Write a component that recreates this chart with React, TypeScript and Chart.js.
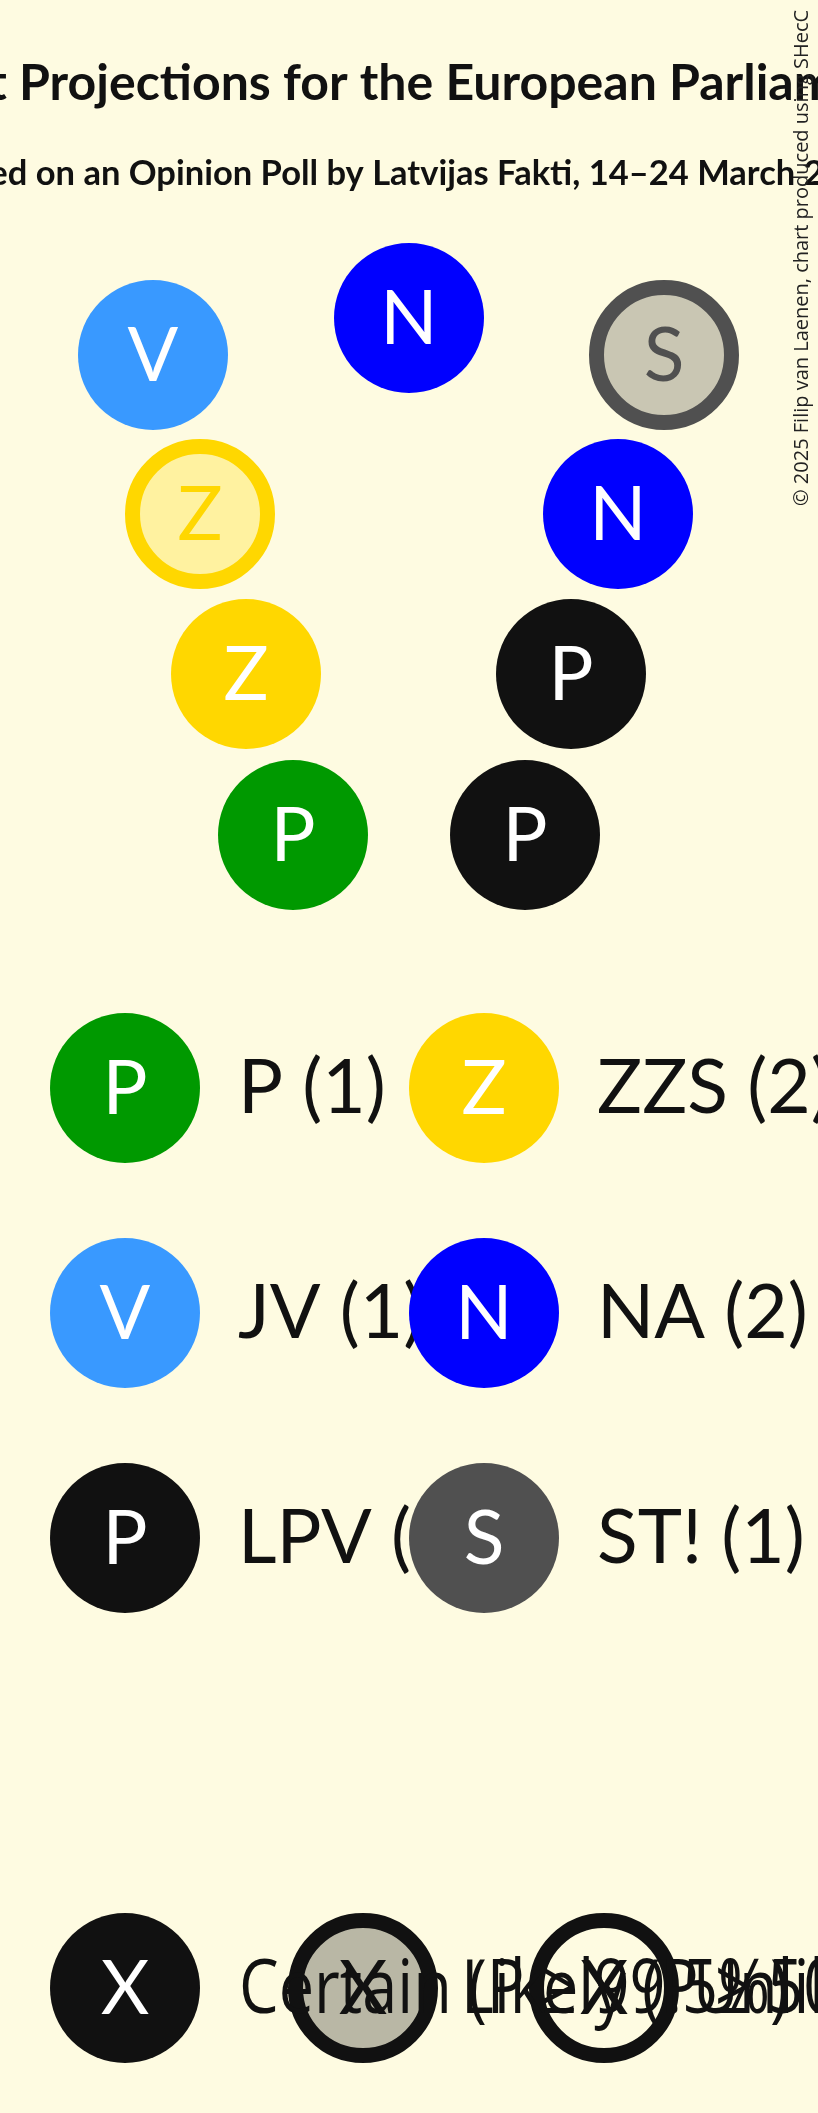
import { useEffect, useRef } from "react";
import { Chart, registerables } from "chart.js";

Chart.register(...registerables);

// seats (scale units = px of the 818x2113 sheet)
const seatParty = ["JV", "NA", "ST!", "ZZS", "NA", "ZZS", "LPV", "P", "LPV"];
const seatLikely = [false, false, true, true, false, false, false, false, false];
const seatX = [153, 409, 664, 200, 618, 246, 571, 293, 525];
const seatY = [355, 318, 355, 514, 514, 674, 674, 835, 835];

// party legend
const legendParties = ["P", "ZZS", "JV", "NA", "LPV", "ST!"];
const legendSeats = [1, 2, 1, 2, 2, 1];
const legendColX = [125, 484];
const legendRowY = [1088, 1313, 1538];

// certainty legend
const statusLabels = ["Certain (P ≥ 99.5%)", "Likely (P ≥ 50%)", "Unlikely (P ≥ 0.5%)"];
const statusX = [125, 363, 604];
const statusY = [1988, 1988, 1988];
const statusTextX = [239, 461, 693];

const title = "Seat Projections for the European Parliament";
const subtitle = "Based on an Opinion Poll by Latvijas Fakti, 14–24 March 2025";
const credit = "© 2025 Filip van Laenen, chart produced using SHecC";

const BG = "#fefbe1";
const INK = "#111111";
const partyColor: Record<string, string> = {
  P: "#009900",
  ZZS: "#ffd700",
  JV: "#3999ff",
  NA: "#0000ff",
  LPV: "#111111",
  "ST!": "#505050",
};
const partyLight: Record<string, string> = {
  ZZS: "#fff2a0",
  "ST!": "#c9c6b3",
};
const partyLetter: Record<string, string> = {
  P: "P", ZZS: "Z", JV: "V", NA: "N", LPV: "P", "ST!": "S",
};

const R = 75;
const RING = 15;

const drawBits = {
  id: "drawBits",
  beforeDraw(chart: any) {
    const { ctx, width, height } = chart;
    ctx.save();
    ctx.fillStyle = BG;
    ctx.fillRect(0, 0, width, height);
    ctx.fillStyle = INK;
    ctx.textAlign = "center";
    ctx.font = "bold 50px Lato";
    ctx.fillText(title, 409, 100);
    ctx.font = "bold 34.5px Lato";
    ctx.fillText(subtitle, 409, 185);
    ctx.translate(808, 506);
    ctx.rotate(-Math.PI / 2);
    ctx.textAlign = "left";
    ctx.fillStyle = "#222";
    ctx.font = "20px 'Open Sans'";
    ctx.fillText(credit, 0, 0);
    ctx.restore();
  },
  afterDatasetDraw(chart: any, args: any) {
    const ctx = chart.ctx;
    const ds = chart.data.datasets[args.index];
    const kind = ds.kind;
    ctx.save();
    ctx.textAlign = "center";
    args.meta.data.forEach((pt: any, j: number) => {
      const { x, y } = pt.getProps(["x", "y"], true);
      let letter = "X";
      let color = "#ffffff";
      if (kind === "seats") {
        const p = seatParty[j];
        letter = partyLetter[p];
        color = seatLikely[j] ? partyColor[p] : "#ffffff";
      } else if (kind === "legend") {
        letter = partyLetter[ds.parties[j]];
      } else if (kind === "status") {
        color = j === 0 ? "#ffffff" : INK;
      }
      ctx.font = "75px Lato";
      ctx.fillStyle = color;
      ctx.fillText(letter, x, y + 26);
      if (kind === "legend") {
        ctx.textAlign = "left";
        ctx.fillStyle = INK;
        const p = ds.parties[j];
        ctx.fillText(`${p} (${legendSeats[legendParties.indexOf(p)]})`, x + 113, y + 25);
        ctx.textAlign = "center";
      }
    });
    if (kind === "status") {
      ctx.fillStyle = INK;
      ctx.textAlign = "left";
      ctx.font = "75px 'Open Sans'";
      args.meta.data.forEach((pt: any, j: number) => {
        const { y } = pt.getProps(["x", "y"], true);
        ctx.save();
        ctx.translate(statusTextX[j], y + 25);
        ctx.scale(0.84, 1);
        ctx.fillText(statusLabels[j], 0, 0);
        ctx.restore();
      });
    }
    ctx.restore();
  },
};

function legendColumn(col: number) {
  const parties = legendParties.filter((_, i) => i % 2 === col);
  return {
    kind: "legend",
    parties,
    data: parties.map((_, r) => ({ x: legendColX[col], y: legendRowY[r] })),
    pointRadius: R,
    pointBorderWidth: 0,
    pointBackgroundColor: parties.map((p) => partyColor[p]),
    pointBorderColor: parties.map((p) => partyColor[p]),
    order: 3 - col,
    clip: false,
  };
}

export default function App() {
  const ref = useRef<HTMLCanvasElement | null>(null);
  const chartRef = useRef<Chart | null>(null);

  useEffect(() => {
    document.body.style.margin = "0";
    document.body.style.background = BG;
    if (!ref.current) return;
    chartRef.current?.destroy();
    const ctx = ref.current.getContext("2d");
    if (!ctx) return;

    chartRef.current = new Chart(ctx, {
      type: "scatter",
      data: {
        datasets: [
          {
            kind: "seats",
            data: seatX.map((x, i) => ({ x, y: seatY[i] })),
            pointRadius: seatLikely.map((l) => (l ? R - RING / 2 : R)),
            pointBorderWidth: seatLikely.map((l) => (l ? RING : 0)),
            pointBackgroundColor: seatParty.map((p, i) => (seatLikely[i] ? partyLight[p] : partyColor[p])),
            pointBorderColor: seatParty.map((p) => partyColor[p]),
            order: 4,
            clip: false,
          },
          legendColumn(0),
          legendColumn(1),
          {
            kind: "status",
            data: statusX.map((x, i) => ({ x, y: statusY[i] })),
            pointRadius: [R, R - RING / 2, R - RING / 2],
            pointBorderWidth: [0, RING, RING],
            pointBackgroundColor: [INK, "#b9b7a5", "rgba(0,0,0,0)"],
            pointBorderColor: [INK, INK, INK],
            order: 1,
            clip: false,
          },
        ] as any,
      },
      options: {
        animation: false,
        responsive: true,
        maintainAspectRatio: false,
        events: [],
        layout: { padding: 0, autoPadding: false },
        plugins: { legend: { display: false }, tooltip: { enabled: false } },
        scales: {
          x: { type: "linear", min: 0, max: 818, display: false },
          y: { type: "linear", min: 0, max: 2113, reverse: true, display: false },
        },
      },
      plugins: [drawBits],
    });

    const c = chartRef.current;
    (document as any).fonts?.load?.("75px Lato").then(() => c.draw()).catch(() => {});

    return () => chartRef.current?.destroy();
  }, []);

  return (
    <div style={{ width: 818, height: 2113, position: "relative" }}>
      <canvas ref={ref} />
    </div>
  );
}
